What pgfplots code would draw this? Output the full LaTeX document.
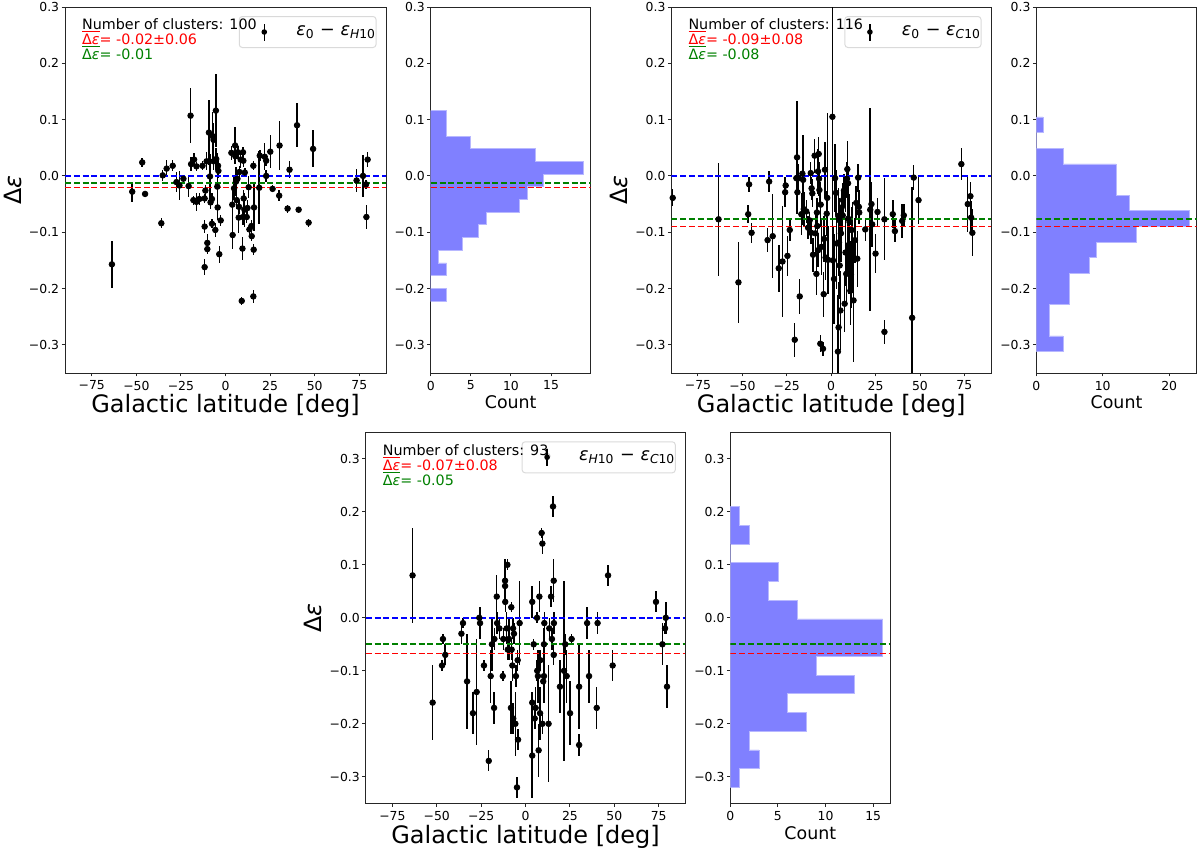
\documentclass[border=0pt]{standalone}
\usepackage{fontspec}
\setmainfont{DejaVu Sans}[ItalicFont={DejaVu Sans Oblique},BoldFont={DejaVu Sans Bold},BoldItalicFont={DejaVu Sans Bold Oblique}]
\usepackage{pgfplots}
\usepackage{pgfplotstable}
\pgfplotsset{compat=1.18}
\definecolor{mplgreen}{rgb}{0,0.5,0}
\definecolor{mplblue}{rgb}{0,0,1}
\definecolor{mplred}{rgb}{1,0,0}
\definecolor{histblue}{rgb}{0.5,0.5,1}
\definecolor{histedge}{rgb}{0.72,0.72,1}

\pgfplotstableread{
x y e
-63.7 -0.157 0.042
-52.3 -0.028 0.018
-46.7 0.024 0.008
-45.1 -0.032 0.004
-36.0 -0.084 0.009
-35.2 0.001 0.010
-33.0 0.013 0.015
-29.6 0.018 0.010
-27.5 -0.011 0.018
-25.8 -0.017 0.025
-23.6 -0.005 0.006
-20.7 -0.018 0.020
-19.6 0.107 0.049
-19.3 0.021 0.013
-17.6 0.029 0.011
-18.0 -0.043 0.008
-16.3 -0.046 0.016
-16.3 0.017 0.008
-14.7 -0.041 0.010
-12.9 0.018 0.008
-11.7 -0.090 0.012
-11.7 -0.162 0.014
-11.7 -0.040 0.008
-11.3 -0.026 0.010
-10.6 0.026 0.016
-10.2 -0.119 0.015
-10.2 -0.130 0.008
-9.3 0.077 0.057
-8.7 -0.001 0.040
-8.4 -0.047 0.012
-7.6 -0.085 0.008
-7.4 0.071 0.042
-7.6 -0.041 0.010
-6.7 0.064 0.030
-6.7 0.026 0.015
-5.7 -0.096 0.012
-5.4 0.116 0.065
-5.2 0.030 0.020
-4.6 -0.019 0.060
-4.4 -0.056 0.015
-4.2 0.018 0.010
-4.0 0.009 0.012
-3.5 -0.139 0.015
-2.7 -0.079 0.010
3.3 0.041 0.012
3.8 -0.051 0.030
4.0 -0.105 0.025
4.8 -0.022 0.020
5.4 0.054 0.033
5.5 0.035 0.012
5.9 -0.010 0.025
6.3 -0.043 0.015
6.7 -0.005 0.010
6.9 0.042 0.012
7.4 -0.074 0.028
7.6 -0.055 0.012
7.8 0.007 0.010
8.5 0.029 0.015
9.1 -0.222 0.007
9.5 -0.129 0.020
9.8 -0.073 0.015
9.8 0.042 0.010
10.0 0.027 0.012
10.2 -0.040 0.015
10.6 -0.060 0.030
10.8 0.006 0.008
11.9 -0.073 0.010
12.3 -0.057 0.015
13.0 -0.020 0.020
13.4 -0.095 0.010
14.5 -0.089 0.010
14.7 -0.107 0.008
15.6 0.018 0.008
15.6 -0.214 0.012
15.8 -0.131 0.010
16.0 -0.056 0.042
18.9 -0.021 0.065
19.2 0.036 0.010
22.0 0.034 0.024
22.8 0.027 0.010
22.8 0.000 0.010
25.1 0.043 0.029
26.4 -0.023 0.006
30.1 -0.035 0.010
30.3 0.054 0.043
34.8 -0.058 0.007
35.9 0.011 0.015
40.1 0.090 0.039
41.0 -0.060 0.005
46.6 -0.083 0.007
49.1 0.048 0.033
73.5 -0.008 0.020
77.1 0.000 0.038
78.8 -0.015 0.008
79.0 -0.073 0.022
79.7 0.029 0.013
}\tabA

\pgfplotstableread{
x y e
-89.2 -0.039 0.015
-63.4 -0.077 0.100
-52.2 -0.189 0.072
-46.7 -0.068 0.016
-46.2 -0.015 0.013
-44.8 -0.101 0.018
-35.8 -0.114 0.021
-34.9 -0.010 0.018
-32.9 -0.107 0.075
-29.5 -0.164 0.042
-27.4 -0.152 0.098
-25.9 -0.029 0.027
-25.6 -0.017 0.015
-24.6 -0.142 0.036
-23.3 -0.096 0.020
-20.5 -0.291 0.030
-19.6 -0.004 0.020
-19.2 0.033 0.100
-19.0 -0.029 0.030
-18.3 -0.004 0.025
-17.7 -0.214 0.031
-16.8 -0.068 0.037
-16.2 0.004 0.050
-15.8 -0.007 0.080
-15.4 -0.059 0.030
-14.0 -0.063 0.020
-13.0 -0.092 0.020
-12.1 -0.079 0.015
-11.5 0.005 0.020
-11.3 -0.101 0.020
-11.0 -0.022 0.020
-10.6 -0.031 0.025
-10.2 -0.140 0.030
-9.3 0.036 0.030
-8.9 -0.102 0.040
-8.3 -0.174 0.037
-8.0 -0.065 0.025
-7.8 -0.089 0.040
-7.4 0.008 0.040
-7.4 -0.132 0.030
-7.0 0.039 0.030
-6.8 -0.005 0.030
-6.6 -0.025 0.030
-6.1 -0.298 0.015
-5.9 -0.051 0.040
-5.5 -0.126 0.050
-4.6 -0.307 0.012
-4.2 -0.210 0.040
-4.0 -0.112 0.040
-3.5 0.011 0.050
-3.1 -0.145 0.040
-2.5 -0.067 0.040
-2.2 -0.039 0.150
-1.8 -0.149 0.060
0.7 0.105 0.500
1.0 -0.150 0.060
1.6 -0.183 0.080
2.2 -0.004 0.060
2.7 -0.030 0.040
3.1 -0.120 0.080
3.8 -0.312 0.100
4.0 -0.071 0.050
4.2 -0.269 0.080
4.4 -0.118 0.060
4.8 -0.079 0.040
4.8 -0.159 0.060
5.2 -0.239 0.070
5.5 -0.102 0.050
5.9 -0.056 0.030
6.5 -0.070 0.030
6.6 -0.043 0.030
7.2 -0.026 0.030
7.6 -0.227 0.050
8.0 -0.034 0.030
8.1 -0.136 0.060
8.5 -0.174 0.050
8.9 -0.005 0.030
9.1 0.012 0.050
9.5 -0.013 0.030
9.6 -0.076 0.040
9.6 -0.123 0.050
10.0 -0.150 0.060
10.4 -0.082 0.050
10.8 -0.204 0.060
11.1 -0.175 0.060
11.5 -0.096 0.040
12.1 -0.126 0.080
12.6 -0.221 0.110
13.4 -0.114 0.040
14.1 -0.048 0.030
14.7 -0.147 0.050
15.2 -0.003 0.025
15.6 -0.055 0.030
15.8 -0.065 0.020
19.2 -0.095 0.020
22.0 -0.060 0.180
22.7 -0.050 0.040
23.1 -0.086 0.040
25.0 -0.138 0.035
26.1 -0.064 0.025
30.0 -0.077 0.073
30.0 -0.277 0.022
34.7 -0.068 0.025
35.9 -0.098 0.020
40.0 -0.080 0.030
40.9 -0.070 0.020
45.6 -0.252 0.233
46.5 -0.003 0.022
49.2 -0.043 0.043
73.3 0.021 0.028
76.9 -0.050 0.050
78.4 -0.036 0.025
78.8 -0.074 0.030
79.5 -0.101 0.042
}\tabB

\pgfplotstableread{
x y e
-63.6 0.08 0.09
-52.3 -0.16 0.07
-47.0 -0.09 0.01
-46.5 -0.04 0.01
-45.2 -0.07 0.02
-36.1 -0.03 0.02
-35.2 -0.01 0.01
-32.9 -0.12 0.09
-29.6 -0.18 0.04
-27.5 -0.14 0.10
-26.0 0.00 0.02
-25.6 -0.01 0.03
-23.4 -0.09 0.01
-20.7 -0.27 0.02
-19.6 -0.11 0.05
-18.9 -0.05 0.05
-17.7 -0.17 0.03
-17.5 -0.04 0.02
-16.2 0.04 0.04
-16.0 -0.01 0.02
-14.7 -0.02 0.02
-12.8 -0.11 0.01
-12.5 -0.04 0.02
-11.5 0.07 0.04
-11.5 0.06 0.03
-11.4 0.03 0.02
-10.6 -0.02 0.03
-10.2 0.10 0.01
-10.0 -0.06 0.02
-9.3 -0.04 0.04
-8.2 -0.17 0.05
-8.0 0.02 0.01
-7.8 -0.06 0.02
-7.4 -0.09 0.03
-7.0 -0.02 0.02
-6.9 -0.19 0.03
-6.5 -0.03 0.02
-5.7 -0.20 0.06
-5.4 -0.11 0.02
-4.4 -0.08 0.02
-4.2 -0.23 0.02
-4.8 -0.32 0.02
-3.3 -0.01 0.08
3.8 0.03 0.03
3.8 -0.26 0.08
3.8 -0.16 0.02
4.6 -0.05 0.01
5.2 -0.19 0.02
5.7 -0.17 0.04
6.5 0.00 0.01
6.6 -0.10 0.02
7.0 -0.11 0.05
7.4 -0.25 0.05
7.8 0.04 0.03
8.2 -0.18 0.05
8.3 -0.08 0.02
9.1 0.16 0.01
9.5 0.14 0.02
9.5 -0.20 0.02
10.0 -0.12 0.02
10.4 -0.11 0.05
10.4 -0.05 0.03
10.6 -0.01 0.02
12.3 0.305 0.015
13.0 -0.20 0.11
13.4 -0.02 0.02
14.4 0.04 0.02
14.9 -0.04 0.02
15.5 0.21 0.02
15.9 0.07 0.04
15.9 -0.07 0.02
16.0 -0.01 0.02
19.4 -0.13 0.05
21.7 -0.10 0.17
22.4 -0.05 0.02
23.2 -0.11 0.05
25.1 -0.18 0.06
26.0 -0.04 0.01
30.2 -0.13 0.08
30.2 -0.24 0.02
34.7 -0.01 0.03
35.8 -0.11 0.05
40.1 -0.17 0.04
40.6 -0.01 0.02
46.5 0.08 0.02
49.1 -0.09 0.03
73.5 0.03 0.02
77.1 -0.05 0.04
78.6 -0.02 0.01
79.0 0.00 0.03
79.7 -0.13 0.04
}\tabC

\pgfplotsset{
  base/.style={scale only axis, anchor=south west,
    axis line style={black!85, line width=0.45pt},
    every tick/.style={black!85, line width=0.45pt},
    tick align=outside, major tick length=1.75pt, tick pos=left,
    minor tick num=0,
    tick label style={font=\fontsize{6.2}{7}\selectfont, inner sep=1pt},
    xticklabel style={yshift=-1pt},
    ytick={-0.3,-0.2,-0.1,0,0.1,0.2,0.3},
    yticklabels={−0.3,−0.2,−0.1,0.0,0.1,0.2,0.3},
    xlabel style={at={([yshift=-20pt]axis description cs:0.5,0)}, anchor=base, font=\fontsize{12}{14}\selectfont},
    ylabel style={at={([xshift=-22pt]axis description cs:0,0.5)}, anchor=base, font=\fontsize{11.9}{13}\selectfont},
  },
  scat/.style={base, xmin=-90, xmax=90,
    xtick={-75,-50,-25,0,25,50,75},
    xticklabels={−75,−50,−25,0,25,50,75},
    xlabel={Galactic latitude [deg]}, ylabel={Δ\textit{ε}},
    legend style={at={(1,1)}, anchor=north east, xshift=-4.75pt, yshift=-4.5pt,
      draw=black!18, line width=0.5pt, rounded corners=1.5pt, fill=white, fill opacity=0.8, draw opacity=0.8, text opacity=1,
      inner sep=0pt, font=\fontsize{8.8}{10}\selectfont, nodes={inner sep=0pt, draw=none}, cells={anchor=west}},
    legend image code/.code={\path[draw=none,fill=none] (-12.5pt,-7.75pt) rectangle (16pt,7.75pt);
      \draw[draw=black, solid, line width=0.75pt, rounded corners=0pt, draw opacity=1] (0pt,-4.25pt)--(0pt,4.25pt);
      \fill[fill=black, draw=none, fill opacity=1] (0pt,0pt) circle (1.4pt);},
  },
  hist/.style={base, xmin=0, xlabel={Count},
    xlabel style={at={([yshift=-18pt]axis description cs:0.5,0)}, anchor=base, font=\fontsize{8.7}{10}\selectfont}},
  pts/.style={only marks, mark=*, mark size=1.4pt, black, mark options={fill=black, draw=black},
    error bars/.cd, y dir=both, y explicit, error mark=none, error bar style={line width=0.75pt, black}},
  hl/.style={dash pattern=on 3pt off 1.4pt, line width=0.8pt, forget plot},
  bars/.style={fill=histblue, draw=histedge, line width=0.35pt, forget plot},
}
\tikzset{ann/.style={anchor=north west, align=left, inner sep=0pt, font=\fontsize{7.15}{7.5}\selectfont, xshift=8.4pt, yshift=-5.8pt}}
\newcommand{\dE}{\(\overline{\mbox{Δ\textit{ε}}}\)}

\begin{document}
\begin{tikzpicture}
% ---------- panel 1 ----------
\begin{axis}[scat, name=p1, at={(32.5pt,239pt)}, width=160.5pt, height=183pt, ymin=-0.35, ymax=0.3]
\addplot[pts] table[x=x, y=y, y error=e] {\tabA};
\addlegendentry{\textit{ε}\textsubscript{0} − \textit{ε}\textsubscript{\textit{H}10}\hspace{3.5pt}}
\addplot[hl, draw=mplblue] coordinates {(-90,0) (90,0)};
\addplot[hl, draw=mplgreen] coordinates {(-90,-0.0125) (90,-0.0125)};
\addplot[hl, draw=mplred] coordinates {(-90,-0.0208) (90,-0.0208)};
\end{axis}
\node[ann] at (p1.north west) {Number of clusters: 100\\ \textcolor{mplred}{\dE= -0.02±0.06}\\ \textcolor{mplgreen}{\dE= -0.01}};
% ---------- hist 1 ----------
\begin{axis}[hist, at={(215.35pt,239pt)}, width=80pt, height=183pt, xmax=19.95, ymin=-0.35, ymax=0.3,
  xtick={0,5,10,15}, xticklabels={0,5,10,15}]
\addplot[bars] coordinates {(0,-0.222)(2,-0.222)(2,-0.1995)(0,-0.1995)(0,-0.1769)(2,-0.1769)(2,-0.1544)(1,-0.1544)(1,-0.1319)(4,-0.1319)(4,-0.1093)(6,-0.1093)(6,-0.0868)(7,-0.0868)(7,-0.0643)(11,-0.0643)(11,-0.0417)(12,-0.0417)(12,-0.0192)(14,-0.0192)(14,0.0033)(19,0.0033)(19,0.0259)(13,0.0259)(13,0.0484)(5,0.0484)(5,0.0709)(2,0.0709)(2,0.116)(0,0.116)} -- cycle;
\addplot[hl, draw=mplgreen] coordinates {(0,-0.0125) (19.95,-0.0125)};
\addplot[hl, draw=mplred] coordinates {(0,-0.0208) (19.95,-0.0208)};
\end{axis}
% ---------- panel 2 ----------
\begin{axis}[scat, name=p2, at={(335.65pt,239pt)}, width=159.85pt, height=183pt, ymin=-0.35, ymax=0.3]
\addplot[pts] table[x=x, y=y, y error=e] {\tabB};
\addlegendentry{\textit{ε}\textsubscript{0} − \textit{ε}\textsubscript{\textit{C}10}\hspace{3.5pt}}
\addplot[hl, draw=mplblue] coordinates {(-90,0) (90,0)};
\addplot[hl, draw=mplgreen] coordinates {(-90,-0.0768) (90,-0.0768)};
\addplot[hl, draw=mplred] coordinates {(-90,-0.0899) (90,-0.0899)};
\end{axis}
\node[ann] at (p2.north west) {Number of clusters: 116\\ \textcolor{mplred}{\dE= -0.09±0.08}\\ \textcolor{mplgreen}{\dE= -0.08}};
% ---------- hist 2 ----------
\begin{axis}[hist, at={(518.15pt,239pt)}, width=80.2pt, height=183pt, xmax=24.15, ymin=-0.35, ymax=0.3,
  xtick={0,10,20}, xticklabels={0,10,20}]
\addplot[bars] coordinates {(0,-0.3119)(4,-0.3119)(4,-0.2841)(2,-0.2841)(2,-0.2286)(5,-0.2286)(5,-0.1730)(8,-0.1730)(8,-0.1452)(9,-0.1452)(9,-0.1175)(15,-0.1175)(15,-0.0897)(23,-0.0897)(23,-0.0619)(14,-0.0619)(14,-0.0341)(12,-0.0341)(12,0.0214)(4,0.0214)(4,0.0492)(0,0.0492)(0,0.0770)(1,0.0770)(1,0.1048)(0,0.1048)} -- cycle;
\addplot[hl, draw=mplgreen] coordinates {(0,-0.0768) (24.15,-0.0768)};
\addplot[hl, draw=mplred] coordinates {(0,-0.0899) (24.15,-0.0899)};
\end{axis}
% ---------- panel 3 ----------
\begin{axis}[scat, name=p3, at={(182.85pt,23.85pt)}, width=159.8pt, height=185.5pt, ymin=-0.35, ymax=0.35]
\addplot[pts] table[x=x, y=y, y error=e] {\tabC};
\addlegendentry{\textit{ε}\textsubscript{\textit{H}10} − \textit{ε}\textsubscript{\textit{C}10}\hspace{3.5pt}}
\addplot[hl, draw=mplblue] coordinates {(-90,0) (90,0)};
\addplot[hl, draw=mplgreen] coordinates {(-90,-0.0497) (90,-0.0497)};
\addplot[hl, draw=mplred] coordinates {(-90,-0.0673) (90,-0.0673)};
\end{axis}
\node[ann] at (p3.north west) {Number of clusters: 93\\ \textcolor{mplred}{\dE= -0.07±0.08}\\ \textcolor{mplgreen}{\dE= -0.05}};
% ---------- hist 3 ----------
\begin{axis}[hist, at={(365.15pt,23.85pt)}, width=80pt, height=185.5pt, xmax=16.8, ymin=-0.35, ymax=0.35,
  xtick={0,5,10,15}, xticklabels={0,5,10,15}]
\addplot[bars] coordinates {(0,-0.32)(1,-0.32)(1,-0.2847)(3,-0.2847)(3,-0.2493)(2,-0.2493)(2,-0.214)(8,-0.214)(8,-0.1787)(6,-0.1787)(6,-0.1433)(13,-0.1433)(13,-0.108)(9,-0.108)(9,-0.0727)(16,-0.0727)(16,-0.002)(7,-0.002)(7,0.0333)(4,0.0333)(4,0.0687)(5,0.0687)(5,0.104)(0,0.104)(0,0.1393)(2,0.1393)(2,0.1747)(1,0.1747)(1,0.21)(0,0.21)} -- cycle;
\addplot[hl, draw=mplgreen] coordinates {(0,-0.0497) (16.8,-0.0497)};
\addplot[hl, draw=mplred] coordinates {(0,-0.0673) (16.8,-0.0673)};
\end{axis}
\pgfresetboundingbox
\path[use as bounding box] (0,0) rectangle (600pt,425.5pt);
\end{tikzpicture}
\end{document}
